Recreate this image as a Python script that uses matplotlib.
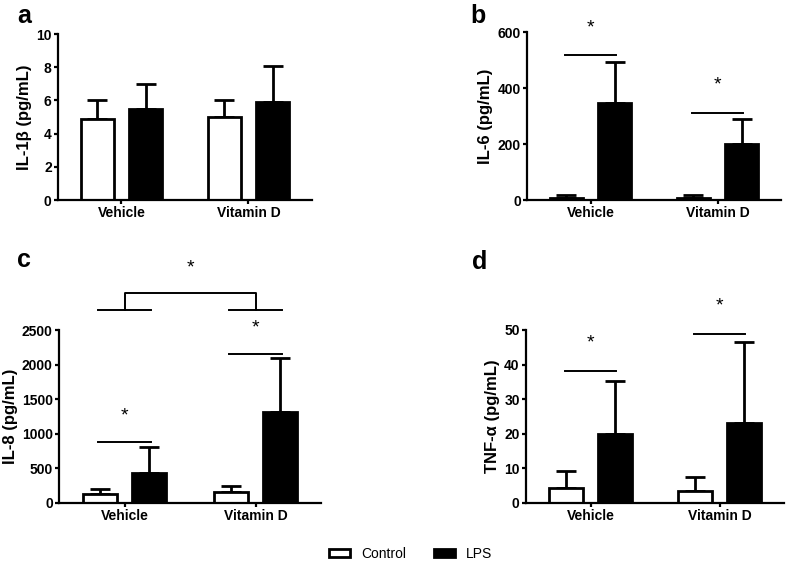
import matplotlib
matplotlib.use("Agg")
import matplotlib.pyplot as plt
import numpy as np

plt.rcParams['font.family'] = ['Liberation Sans', 'DejaVu Sans']

groups = ["Vehicle", "Vitamin D"]
series = ["Control", "LPS"]

il1b_mean = {"Control": [4.85, 4.97], "LPS": [5.47, 5.89]}
il1b_err = {"Control": [1.18, 1.04], "LPS": [1.50, 2.19]}

il6_mean = {"Control": [8, 6], "LPS": [346, 200]}
il6_err = {"Control": [10, 11], "LPS": [147, 88]}

il8_mean = {"Control": [130, 159], "LPS": [439, 1318]}
il8_err = {"Control": [77, 92], "LPS": [377, 781]}

tnf_mean = {"Control": [4.44, 3.47], "LPS": [19.9, 23.1]}
tnf_err = {"Control": [4.83, 4.06], "LPS": [15.4, 23.3]}

# significance annotations: (group index, line height, star height)
il6_sig = [(0, 518, 614), (1, 312, 412)]
il8_sig = [(0, 888, 1264), (1, 2157, 2524)]
tnf_sig = [(0, 38.1, 46.2), (1, 48.7, 56.9)]

W, H = 787, 564
fig = plt.figure(figsize=(W / 100, H / 100), dpi=100)

def px_axes(l, r, t, b):
    return fig.add_axes([l / W, 1 - b / H, (r - l) / W, (b - t) / H])

ax_a = px_axes(58, 312, 34, 200)
ax_b = px_axes(527, 781, 32, 200)
ax_c = px_axes(59, 321, 330, 503)
ax_d = px_axes(526, 784, 330, 503)

off = 0.19
bw = 0.26
x = np.arange(len(groups))
faces = {"Control": "white", "LPS": "black"}

def draw(ax, means, errs, ylabel, ylim, yticks, letter, lpos):
    for i, s in enumerate(series):
        xs = x + (-off if i == 0 else off)
        ax.errorbar(xs, means[s], yerr=[np.zeros(len(groups)), errs[s]],
                    fmt='none', ecolor='black', elinewidth=2, capsize=7.5,
                    capthick=2, zorder=1)
        ax.bar(xs, means[s], width=bw, color=faces[s], edgecolor='black',
               linewidth=2, zorder=2, label=s)
    ax.set_xlim(-0.5, 1.5)
    ax.set_ylim(*ylim)
    ax.set_yticks(yticks)
    ax.set_xticks(x)
    ax.set_xticklabels(groups, fontsize=10, fontweight='bold')
    for lab in ax.get_yticklabels():
        lab.set_fontweight('bold')
        lab.set_fontsize(10)
    ax.set_ylabel(ylabel, fontsize=12, fontweight='bold', labelpad=3)
    for sp in ['top', 'right']:
        ax.spines[sp].set_visible(False)
    for sp in ['left', 'bottom']:
        ax.spines[sp].set_linewidth(1.6)
    ax.tick_params(width=1.6, length=3, pad=1.5)
    fig.text(lpos[0] / W, 1 - lpos[1] / H, letter, fontsize=18,
             fontweight='bold', ha='left', va='top')

def sig(ax, sigs):
    for gi, ly, sy in sigs:
        ax.plot([gi - 0.2, gi + 0.2], [ly, ly], color='black', lw=1.4,
                clip_on=False)
        ax.text(gi, sy, '*', ha='center', va='center', fontsize=14,
                clip_on=False)

draw(ax_a, il1b_mean, il1b_err, "IL-1β (pg/mL)", (0, 10), [0, 2, 4, 6, 8, 10], 'a', (17, 4))
draw(ax_b, il6_mean, il6_err, "IL-6 (pg/mL)", (0, 600), [0, 200, 400, 600], 'b', (470, 4))
draw(ax_c, il8_mean, il8_err, "IL-8 (pg/mL)", (0, 2500), [0, 500, 1000, 1500, 2000, 2500], 'c', (17, 248))
draw(ax_d, tnf_mean, tnf_err, "TNF-α (pg/mL)", (0, 50), [0, 10, 20, 30, 40, 50], 'd', (472, 250))

sig(ax_b, il6_sig)
sig(ax_c, il8_sig)
sig(ax_d, tnf_sig)

# bracket in panel c comparing groups
br_low, br_top, br_star = 2794, 3036, 3398
for gi in range(len(groups)):
    ax_c.plot([gi - 0.2, gi + 0.2], [br_low, br_low], color='black', lw=1.4, clip_on=False)
ax_c.plot([0, 0, 1, 1], [br_low, br_top, br_top, br_low], color='black', lw=1.4, clip_on=False)
ax_c.text(0.5, br_star, '*', ha='center', va='center', fontsize=14, clip_on=False)

handles, labels = ax_a.get_legend_handles_labels()
leg = fig.legend(handles, labels, loc='center', bbox_to_anchor=(0.522, 0.018),
                 ncol=2, frameon=False, fontsize=10, handlelength=1.5,
                 handleheight=0.45, columnspacing=2.0, handletextpad=0.8)

fig.savefig("out.png", dpi=100)
